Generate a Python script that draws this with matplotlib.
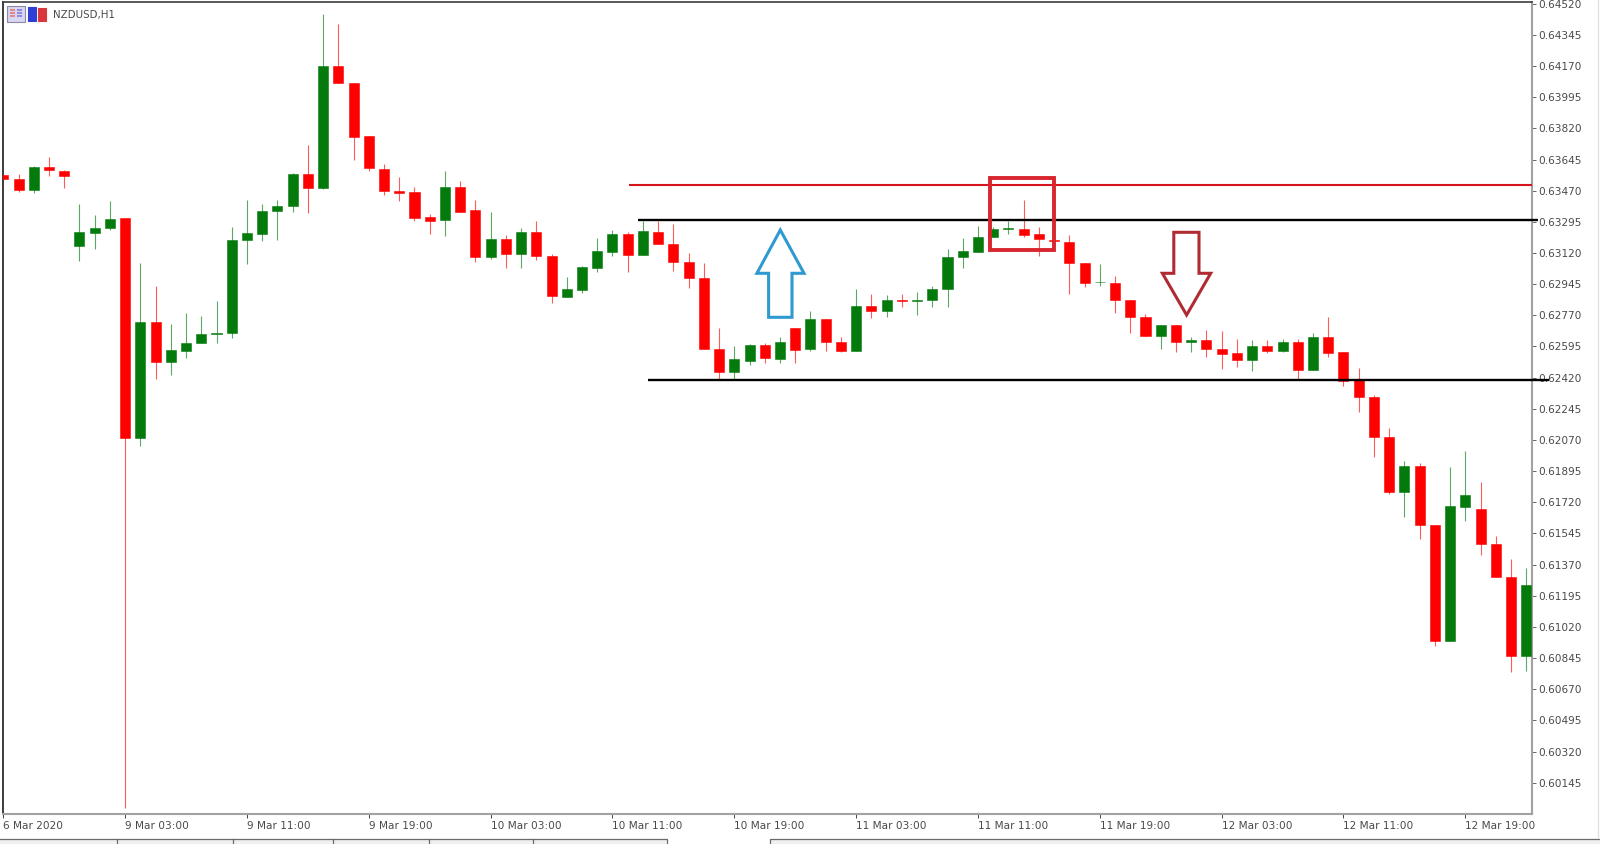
from matplotlib import pyplot as plt
from matplotlib.patches import Polygon, Rectangle
from matplotlib.transforms import IdentityTransform
import numpy as np

W, H = 1600, 844

# prices in 1e-5 units, first bar is cut off by the left edge
opens = [63559, 63534, 63474, 63605, 63583, 63160, 63235, 63261,
         63317, 62082, 62735, 62508, 62572, 62615, 62664, 62668, 63192, 63229,
         63358, 63385, 63564, 63486, 64171, 64075, 63778, 63594, 63471, 63461,
         63321, 63304, 63493, 63364, 63100, 63199, 63117, 63237, 63104, 62875,
         62913, 63038, 63128, 63227, 63111, 63240, 63171, 63070, 62980, 62583,
         62449, 62514, 62604, 62523, 62701, 62581, 62750, 62621, 62572, 62825,
         62797, 62857, 62851, 62855, 62920, 63100, 63128, 63209, 63255, 63255,
         63225, 63192, 63181, 63064, 62956, 62952, 62857, 62761, 62654, 62713,
         62623, 62630, 62583, 62559, 62520, 62600, 62572, 62621, 62464, 62649,
         62565, 62404, 62312, 62089, 61780, 61921, 61595, 60942, 61696, 61683,
         61488, 61303, 60857]
highs = [63559, 63564, 63609, 63662, 63587, 63394, 63334, 63413,
         63317, 63066, 62937, 62722, 62782, 62767, 62851, 63268, 63418, 63394,
         63418, 63568, 63725, 64463, 64407, 64075, 63778, 63620, 63546, 63493,
         63340, 63579, 63525, 63418, 63351, 63220, 63261, 63302, 63115, 62988,
         63049, 63205, 63248, 63237, 63300, 63302, 63283, 63119, 63063, 62698,
         62600, 62610, 62617, 62647, 62701, 62793, 62750, 62651, 62917, 62890,
         62885, 62890, 62900, 62937, 63145, 63205, 63274, 63268, 63302, 63418,
         63265, 63194, 63220, 63066, 63057, 62991, 62857, 62778, 62718, 62713,
         62649, 62686, 62683, 62639, 62632, 62632, 62638, 62636, 62671, 62763,
         62565, 62473, 62323, 62136, 61951, 61943, 61595, 61917, 62009, 61836,
         61529, 61404, 61352]
lows = [63530, 63465, 63459, 63555, 63484, 63078, 63141, 63250,
        60004, 62037, 62411, 62435, 62533, 62613, 62613, 62645, 63059, 63190,
        63195, 63353, 63343, 63478, 64073, 63643, 63583, 63446, 63411, 63302,
        63227, 63216, 63351, 63072, 63087, 63036, 63036, 63081, 62840, 62875,
        62898, 63016, 63106, 63016, 63111, 63171, 63021, 62926, 62583, 62407,
        62407, 62493, 62501, 62505, 62501, 62572, 62572, 62563, 62572, 62754,
        62759, 62819, 62774, 62817, 62817, 63034, 63128, 63209, 63227, 63212,
        63104, 63184, 62892, 62928, 62932, 62782, 62673, 62654, 62580, 62566,
        62566, 62535, 62469, 62477, 62460, 62561, 62566, 62415, 62464, 62535,
        62374, 62228, 61973, 61765, 61640, 61512, 60910, 60942, 61614, 61426,
        61301, 60769, 60775]
closes = [63534, 63474, 63605, 63587, 63555, 63237, 63259, 63312,
          62082, 62735, 62508, 62574, 62617, 62666, 62671, 63194, 63231, 63358,
          63385, 63564, 63486, 64171, 64075, 63774, 63600, 63469, 63459, 63319,
          63298, 63493, 63353, 63100, 63199, 63117, 63237, 63106, 62877, 62917,
          63040, 63130, 63227, 63111, 63242, 63171, 63070, 62978, 62583, 62449,
          62523, 62606, 62531, 62621, 62576, 62750, 62621, 62570, 62825, 62797,
          62857, 62851, 62855, 62920, 63096, 63130, 63209, 63255, 63259, 63224,
          63197, 63186, 63066, 62954, 62960, 62857, 62761, 62654, 62713, 62621,
          62632, 62583, 62555, 62520, 62600, 62570, 62621, 62464, 62647, 62561,
          62400, 62312, 62087, 61780, 61921, 61593, 60942, 61698, 61761, 61486,
          61301, 60857, 61254]

first_bar = -8
resistance = 0.63504
upper_level = 0.63304
lower_level = 0.62407
box_prices = (0.63137, 0.63542)
box_bars = (56.8, 61.0)

time_labels = ['6 Mar 2020', '9 Mar 03:00', '9 Mar 11:00', '9 Mar 19:00',
               '10 Mar 03:00', '10 Mar 11:00', '10 Mar 19:00', '11 Mar 03:00',
               '11 Mar 11:00', '11 Mar 19:00', '12 Mar 03:00', '12 Mar 11:00',
               '12 Mar 19:00']
price_labels = ['0.64520', '0.64345', '0.64170', '0.63995', '0.63820', '0.63645',
                '0.63470', '0.63295', '0.63120', '0.62945', '0.62770', '0.62595',
                '0.62420', '0.62245', '0.62070', '0.61895', '0.61720', '0.61545',
                '0.61370', '0.61195', '0.61020', '0.60845', '0.60670', '0.60495',
                '0.60320', '0.60145']

RED = '#ff0000'
GREEN = '#047a0c'
GREY = '#a2a2a2'
TEXT = '#4a4a4a'


def px(points):
    # reference pixel coordinates, y measured from the top
    return [(x, H - y) for x, y in points]


fig = plt.figure(figsize=(W/100, H/100), dpi=100)
ax = fig.add_axes([3/W, 1 - 814/H, (1532 - 3)/W, (814 - 2)/H])
ax.set_xlim(-8.02, 92.38)
ax.set_ylim(0.59969, 0.64530)

xs = first_bar + np.arange(len(opens))
o = np.array(opens)/1e5
h = np.array(highs)/1e5
l = np.array(lows)/1e5
c = np.array(closes)/1e5
colors = [GREEN if b >= a else RED for a, b in zip(o, c)]
ax.vlines(xs, l, h, colors=colors, lw=0.8, alpha=0.65, zorder=2)
ax.bar(xs, np.abs(c - o), 0.66, bottom=np.minimum(o, c), color=colors,
       edgecolor=colors, lw=0.4, zorder=3)

ax.set_xticks(np.arange(first_bar, 92, 8))
ax.set_xticklabels(time_labels, ha='left', fontsize=7.6, color=TEXT)
ax.set_yticks([float(p) for p in price_labels])
ax.set_yticklabels(price_labels, fontsize=7.6, color=TEXT)
ax.yaxis.tick_right()
ax.tick_params(axis='y', length=3, width=0.7, color='#666666', pad=1.5)
ax.tick_params(axis='x', length=3, width=0.7, color='#444444', pad=2)
for side, col, lw in [('left', '#3c3c3c', 1.4), ('top', '#3c3c3c', 1.2),
                      ('right', GREY, 1.5), ('bottom', GREY, 1.5)]:
    ax.spines[side].set_color(col)
    ax.spines[side].set_linewidth(lw)

# levels drawn by hand on the chart, they stick out a bit past the axis
ax.plot([33.07, 92.4], [resistance]*2, color='#d8141c', lw=1.5, zorder=4,
        clip_on=False, solid_capstyle='butt')
ax.plot([33.66, 92.75], [upper_level]*2, color='black', lw=1.7, zorder=4,
        clip_on=False, solid_capstyle='butt')
ax.plot([34.32, 93.5], [lower_level]*2, color='black', lw=1.7, zorder=4,
        clip_on=False, solid_capstyle='butt')
ax.add_patch(Rectangle((box_bars[0], box_prices[0]), box_bars[1] - box_bars[0],
                       box_prices[1] - box_prices[0], fill=False,
                       ec='#d8262e', lw=2.8, zorder=5))

up_arrow = px([(780.3, 230), (804, 273.3), (792, 273.3), (792, 317.3),
               (768.6, 317.3), (768.6, 273.3), (756.9, 273.3)])
down_arrow = px([(1173.8, 232.3), (1199, 232.3), (1199, 273.3), (1210.7, 273.3),
                 (1186.6, 315), (1162.4, 273.3), (1173.8, 273.3)])
fig.add_artist(Polygon(up_arrow, closed=True, fill=False, ec='#2e9ad0', lw=2.2,
                       transform=IdentityTransform(), zorder=6))
fig.add_artist(Polygon(down_arrow, closed=True, fill=False, ec='#b02a32', lw=2.2,
                       transform=IdentityTransform(), zorder=6))

# symbol label and the little terminal icons
fig.text(53/W, 1 - 15/H, 'NZDUSD,H1', fontsize=7.4, color=TEXT, va='center')
icons = [((7, 22), 18, 16, '#d9d6f2', '#8d8aa8'), ((28, 21), 8, 14, '#2f3fd6', '#2f3fd6'),
         ((38, 21), 8, 13, '#d8383c', '#d8383c')]
for (x0, y0), w, hh, fc, ec in icons:
    fig.add_artist(Rectangle((x0, H - y0), w, hh, fc=fc, ec=ec, lw=0.8,
                             transform=IdentityTransform()))
for row_y in (11, 14, 17):
    for x0, col in ((10, '#e08a90'), (17, '#8d8ae0')):
        fig.add_artist(Rectangle((x0, H - row_y), 5, 2, fc=col, ec='none',
                                 transform=IdentityTransform()))

# tab strip at the bottom of the terminal window
fig.add_artist(Rectangle((0, 0), 667, H - 839, fc='#f0f0f0', ec='none',
                         transform=IdentityTransform()))
fig.add_artist(Rectangle((770, 0), W - 770, H - 839, fc='#f0f0f0', ec='none',
                         transform=IdentityTransform()))
strip = [[(0, 838.5), (667, 838.5), (667, 844)], [(770, 844), (770, 838.5), (W, 838.5)]]
strip += [[(x, 838.5), (x, 844)] for x in (117, 233, 333, 429, 533)]
for seg in strip:
    fig.add_artist(plt.Line2D(*zip(*px(seg)), color='#6a6a6a', lw=0.9,
                              transform=IdentityTransform()))
fig.add_artist(plt.Line2D(*zip(*px([(1598, 0), (1598, 838)])), color='#dddddd', lw=0.9,
                          transform=IdentityTransform()))

fig.savefig('out.png', dpi=100)
